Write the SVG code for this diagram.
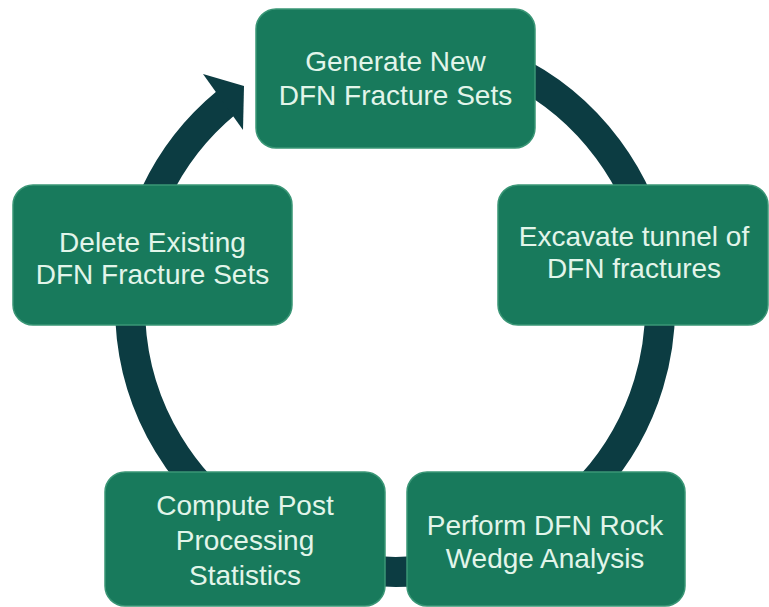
<svg xmlns="http://www.w3.org/2000/svg" width="769" height="607" viewBox="0 0 769 607">
<style>
.box{fill:#187a5c;stroke:#3a9676;stroke-width:1.5}
.lbl{font-family:"Liberation Sans",Arial,sans-serif;font-size:28px;fill:#e2f5ea;text-anchor:middle}
.ring{fill:none;stroke:#0c3c42;stroke-width:30}
</style>
<rect width="769" height="607" fill="#ffffff"/>
<g id="connectors">
<path class="ring" d="M395 42 A265 265 0 1 1 226.5 102.5"/>
<polygon fill="#0c3c42" points="244,86 203,74 243,130"/>
</g>
<g id="node-generate">
<rect class="box" x="256" y="9" width="279" height="139" rx="20"/>
<text class="lbl" x="395.5" y="71">Generate New</text>
<text class="lbl" x="395.5" y="105">DFN Fracture Sets</text>
</g>
<g id="node-delete">
<rect class="box" x="13" y="185" width="279" height="140" rx="20"/>
<text class="lbl" x="152.5" y="252">Delete Existing</text>
<text class="lbl" x="152.5" y="284">DFN Fracture Sets</text>
</g>
<g id="node-excavate">
<rect class="box" x="498" y="185" width="270" height="140" rx="20"/>
<text class="lbl" x="634" y="246">Excavate tunnel of</text>
<text class="lbl" x="634" y="278">DFN fractures</text>
</g>
<g id="node-compute">
<rect class="box" x="105" y="472" width="280" height="134" rx="20"/>
<text class="lbl" x="245" y="515">Compute Post</text>
<text class="lbl" x="245" y="550">Processing</text>
<text class="lbl" x="245" y="585">Statistics</text>
</g>
<g id="node-perform">
<rect class="box" x="407" y="472" width="278" height="134" rx="20"/>
<text class="lbl" x="545" y="535">Perform DFN Rock</text>
<text class="lbl" x="545" y="568">Wedge Analysis</text>
</g>
</svg>
